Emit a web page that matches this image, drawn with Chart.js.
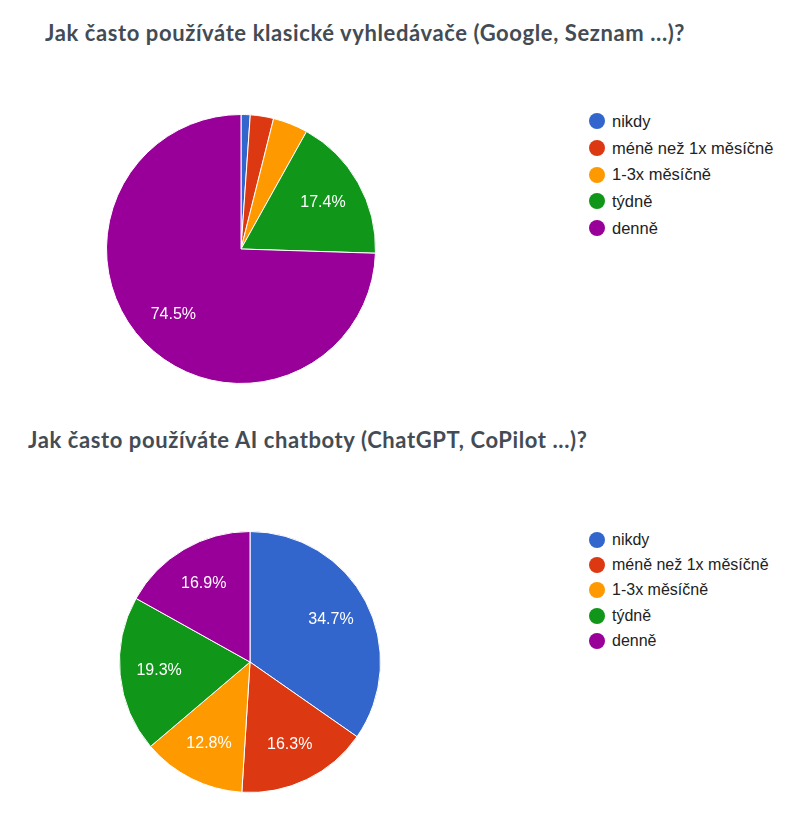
<!DOCTYPE html>
<html lang="cs">
  <head>
    <meta charset="UTF-8" />
    <title>Vyhledávače a AI chatboty</title>
    <script src="https://cdn.jsdelivr.net/npm/chart.js@4.4.1/dist/chart.umd.min.js"></script>
    <style>
      body {
        margin: 0;
        background: #fff;
        width: 804px;
        height: 834px;
        position: relative;
        overflow: hidden;
      }
      .titulek {
        position: absolute;
        margin: 0;
        font-family: Lato, sans-serif;
        font-weight: bold;
        font-size: 22px;
        line-height: 22px;
        letter-spacing: 0.6px;
        color: #434c54;
        white-space: nowrap;
      }
      .graf {
        position: absolute;
        width: 280px;
        height: 280px;
      }
      .legenda {
        position: absolute;
        list-style: none;
        margin: 0;
        padding: 0;
        font-family: "Liberation Sans", Arial, sans-serif;
        font-size: 16px;
        color: #222;
      }
      .legenda li {
        display: flex;
        align-items: center;
        white-space: nowrap;
      }
      .legenda span {
        display: inline-block;
        width: 16px;
        height: 16px;
        border-radius: 50%;
        margin-right: 7px;
      }
    </style>
  </head>

  <body>
    <h2 class="titulek" style="left: 45px; top: 22px">
      Jak často používáte klasické vyhledávače (Google, Seznam ...)?
    </h2>
    <div class="graf" style="left: 101px; top: 109px">
      <canvas id="vyhledavace"></canvas>
    </div>
    <ul class="legenda" id="legenda1" style="left: 589px; top: 108px; font-size: 16.5px"></ul>

    <h2 class="titulek" style="left: 28px; top: 429px">
      Jak často používáte AI chatboty (ChatGPT, CoPilot ...)?
    </h2>
    <div class="graf" style="left: 110px; top: 522px">
      <canvas id="chatboty"></canvas>
    </div>
    <ul class="legenda" id="legenda2" style="left: 589px; top: 527px"></ul>
  </body>
  <script>
    var kategorie = ["nikdy", "méně než 1x měsíčně", "1-3x měsíčně", "týdně", "denně"];
    var barvy = ["#3366CC", "#DC3912", "#FF9900", "#109618", "#990099"];
    var vyhledavace = [1.1, 2.8, 4.2, 17.4, 74.5];
    var chatboty = [34.7, 16.3, 12.8, 19.3, 16.9];

    // popisky procent uvnitr vysecí (jen u vetsich dilku)
    var procentaLabel = {
      id: "procentaLabel",
      afterDatasetsDraw(chart) {
        const { ctx } = chart;
        const hodnoty = chart.data.datasets[0].data;
        const soucet = hodnoty.reduce((a, b) => a + b, 0);
        ctx.save();
        ctx.font = "16px 'Liberation Sans', Arial, sans-serif";
        ctx.fillStyle = "#ffffff";
        ctx.textAlign = "center";
        ctx.textBaseline = "middle";
        chart.getDatasetMeta(0).data.forEach(function (arc, i) {
          const podil = (hodnoty[i] / soucet) * 100;
          if (podil < 5) return;
          const p = arc.getProps(["x", "y", "startAngle", "endAngle", "outerRadius"], true);
          const uhel = (p.startAngle + p.endAngle) / 2;
          const r = p.outerRadius * 0.7;
          ctx.fillText(podil.toFixed(1) + "%", p.x + Math.cos(uhel) * r, p.y + Math.sin(uhel) * r);
        });
        ctx.restore();
      },
    };

    function novyGraf(id, hodnoty, idLegendy, rozestup, okraj) {
      var graf = new Chart(document.getElementById(id), {
        type: "pie",
        data: {
          labels: kategorie,
          datasets: [
            {
              data: hodnoty,
              backgroundColor: barvy,
              borderColor: "#ffffff",
              borderWidth: 1,
            },
          ],
        },
        options: {
          responsive: true,
          maintainAspectRatio: false,
          animation: false,
          layout: { padding: okraj },
          plugins: {
            legend: { display: false },
            tooltip: { enabled: false },
          },
        },
        plugins: [procentaLabel],
      });

      // html legenda z polozek, ktere vraci sam Chart.js
      var ul = document.getElementById(idLegendy);
      var polozky = graf.options.plugins.legend.labels.generateLabels(graf);
      polozky.forEach(function (it) {
        var li = document.createElement("li");
        li.style.height = rozestup + "px";
        var kolecko = document.createElement("span");
        kolecko.style.background = it.fillStyle;
        li.appendChild(kolecko);
        li.appendChild(document.createTextNode(it.text));
        ul.appendChild(li);
      });
      return graf;
    }

    novyGraf("vyhledavace", vyhledavace, "legenda1", 26.7, 5);
    novyGraf("chatboty", chatboty, "legenda2", 25.3, 9);
  </script>
</html>
